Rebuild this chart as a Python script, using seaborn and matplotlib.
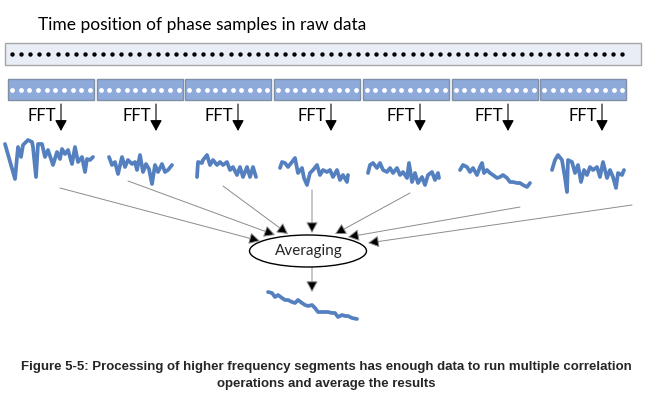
import numpy as np
import matplotlib
matplotlib.use("Agg")
import matplotlib.pyplot as plt
import seaborn as sns
from matplotlib.patches import Rectangle, Ellipse

sns.set_theme(style="white")
plt.rcParams['font.family'] = ['Lato', 'DejaVu Sans']

# sample counts
n_raw_samples = 68
n_segments = 7
n_seg_samples = 10

# spectra (t = position inside panel, v = level)
t1 = [0, 10, 13, 16, 18, 23, 27, 28, 31, 33, 37, 40, 43, 48, 52, 55, 57, 60, 63, 67, 70, 73, 77, 80, 82, 85, 88]
v1 = [38, 3, 35, 25, 37, 42, 40, 35, 5, 38, 38, 25, 32, 17, 30, 23, 33, 28, 32, 18, 35, 20, 25, 10, 23, 22, 25]
t2 = [1, 4, 7, 10, 14, 17, 20, 24, 27, 29, 32, 35, 38, 41, 44, 47, 50, 54, 57, 60, 64]
v2 = [29, 21, 24, 12, 29, 19, 26, 22, 24, 16, 31, 14, 22, 17, 2, 21, 14, 22, 14, 16, 21]
t3 = [1, 2, 6, 7, 11, 14, 17, 21, 24, 27, 31, 34, 37, 41, 44, 47, 51, 54, 57, 60]
v3 = [2, 17, 16, 19, 24, 14, 19, 14, 17, 14, 17, 9, 12, 4, 12, 2, 12, 2, 12, 2]
t4 = [1, 3, 6, 9, 13, 16, 19, 23, 25, 28, 31, 34, 38, 41, 44, 48, 51, 54, 58, 61, 64, 68, 69]
v4 = [19, 25, 24, 20, 25, 29, 14, 19, 9, 2, 14, 17, 22, 12, 17, 15, 17, 10, 17, 7, 12, 5, 12]
t5 = [1, 3, 6, 10, 13, 16, 20, 23, 26, 30, 33, 36, 40, 42, 45, 48, 51, 55, 58, 61, 65, 68, 71, 72]
v5 = [14, 22, 24, 19, 24, 17, 15, 19, 14, 19, 12, 15, 9, 24, 5, 14, 4, 10, 2, 12, 15, 7, 14, 9]
t6 = [1, 4, 8, 11, 14, 18, 21, 23, 25, 28, 31, 34, 38, 41, 44, 48, 51, 54, 58, 61, 64, 68, 71]
v6 = [19, 24, 22, 17, 21, 14, 22, 26, 16, 19, 16, 14, 11, 12, 14, 11, 7, 7, 6, 6, 4, 2, 6]
t7 = [1, 4, 7, 11, 14, 16, 17, 21, 24, 27, 30, 33, 36, 39, 42, 46, 49, 52, 56, 59, 62, 65, 67, 71, 73]
v7 = [24, 34, 39, 34, 16, 2, 34, 32, 21, 29, 12, 24, 19, 27, 24, 27, 17, 32, 16, 24, 17, 6, 21, 19, 24]
t_avg = [1, 5, 8, 11, 15, 18, 21, 25, 28, 31, 35, 38, 41, 45, 48, 51, 55, 58, 61, 65, 68, 71, 75, 78, 81, 85, 90]
v_avg = [29, 28, 24, 26, 23, 21, 21, 19, 18, 21, 18, 16, 15, 16, 13, 9, 9, 9, 9, 8, 8, 4, 6, 5, 5, 3, 2]

W, H = 651, 405
BLUE = "#5580bf"

fig = plt.figure(figsize=(6.51, 4.05), dpi=100)
ax = fig.add_axes([0, 0, 1, 1])
ax.set_xlim(0, W)
ax.set_ylim(H, 0)
ax.axis("off")

ax.text(38, 25, "Time position of phase samples in raw data", fontsize=12.5,
        va="center", ha="left", color="black")

# raw data strip
ax.add_patch(Rectangle((5, 43), 636, 22, facecolor="#e9edf5", edgecolor="#a6a6a6", lw=1))
ax.scatter(np.linspace(12, 622, n_raw_samples), np.full(n_raw_samples, 54),
           s=10, color="black", zorder=3, linewidths=0)

# segments + FFT arrows
fft_arrow_x = [61, 156, 238, 331, 420, 508, 602]
for i in range(n_segments):
    x0 = 8 + i * 88.7
    ax.add_patch(Rectangle((x0, 79), 86, 21, facecolor="#8eaadb", edgecolor="#7f8fa6", lw=1))
    ax.scatter(np.linspace(x0 + 4, x0 + 82, n_seg_samples), np.full(n_seg_samples, 89.5),
               s=12, color="white", zorder=3, linewidths=0)
    xa = fft_arrow_x[i]
    ax.text(xa - 5, 116, "FFT", fontsize=12, ha="right", va="center", color="black")
    ax.annotate("", xy=(xa, 131), xytext=(xa, 104),
                arrowprops=dict(arrowstyle="-|>,head_length=0.55,head_width=0.3",
                                color="black", lw=0.8, mutation_scale=12,
                                shrinkA=0, shrinkB=0))


def spectrum(t, v, x, y, w, h):
    iax = fig.add_axes([x / W, 1 - (y + h) / H, w / W, h / H])
    sns.lineplot(x=t, y=v, ax=iax, color=BLUE, linewidth=2.7, estimator=None,
                 clip_on=False, solid_joinstyle="round", solid_capstyle="round")
    iax.set_xlim(0, w)
    iax.set_ylim(0, h)
    iax.axis("off")


spectrum(t1, v1, 5, 138, 88, 44)
spectrum(t2, v2, 108, 152, 65, 34)
spectrum(t3, v3, 196, 152, 62, 27)
spectrum(t4, v4, 279, 156, 70, 31)
spectrum(t5, v5, 367, 161, 73, 26)
spectrum(t6, v6, 459, 161, 72, 28)
spectrum(t7, v7, 551, 153, 74, 41)
spectrum(t_avg, v_avg, 267, 290, 91, 31)

# arrows into the averaging block
starts = [(60, 188), (128, 181), (223, 186), (312, 190), (410, 193), (520, 207), (632, 205)]
ends = [(260, 241), (275, 235), (288, 234), (312, 233), (335, 234), (348, 237), (368, 243)]
for s, e in zip(starts, ends):
    ax.annotate("", xy=e, xytext=s,
                arrowprops=dict(arrowstyle="-|>,head_length=0.55,head_width=0.3",
                                edgecolor="#8c8c8c", facecolor="black", lw=0.7,
                                mutation_scale=12, shrinkA=0, shrinkB=0))

ax.add_patch(Ellipse((308, 251), 117, 32, facecolor="white", edgecolor="black", lw=1, zorder=4))
ax.text(309, 251, "Averaging", fontsize=11, ha="center", va="center", zorder=5)
ax.annotate("", xy=(312, 292), xytext=(312, 267),
            arrowprops=dict(arrowstyle="-|>,head_length=0.55,head_width=0.3",
                            edgecolor="#8c8c8c", facecolor="black", lw=0.7,
                            mutation_scale=12, shrinkA=0, shrinkB=0))

cap_font = ["Liberation Sans Narrow", "Liberation Sans"]
ax.text(326, 367, "Figure 5-5: Processing of higher frequency segments has enough data to run multiple correlation",
        fontsize=9.5, fontweight="bold", ha="center", va="center", family=cap_font)
ax.text(326, 384, "operations and average the results",
        fontsize=9.5, fontweight="bold", ha="center", va="center", family=cap_font)

fig.savefig("out.png", dpi=100)
